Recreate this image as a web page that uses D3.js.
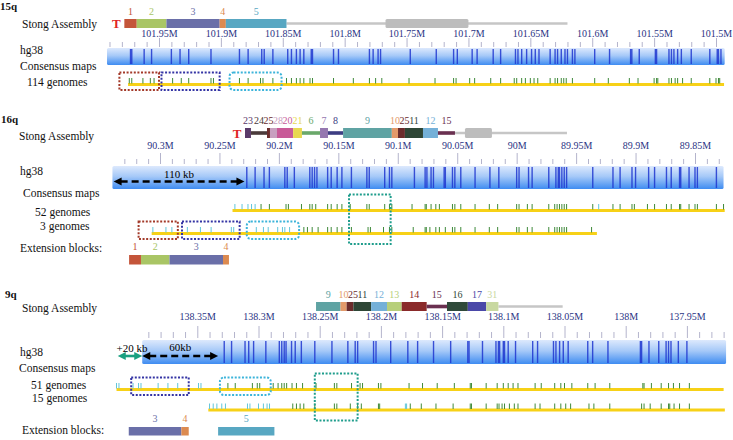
<!DOCTYPE html>
<html><head><meta charset="utf-8">
<script src="https://cdn.jsdelivr.net/npm/d3@7"></script>
<style>
body{margin:0;background:#fff}
svg text{font-family:"Liberation Serif","Times New Roman",serif}
</style></head><body>
<svg id="chart" width="733" height="440"></svg>
<script>
// ---------------- DATA (genomic positions in Mb) ----------------
const q15Ticks = [101.95,101.9,101.85,101.8,101.75,101.7,101.65,101.6,101.55,101.5];
const q15MinorRange = [101.99, 101.5];
const q15Hg38Extent = [101.992, 101.493];
const q15Hg38 = [101.973,101.972,101.962,101.956,101.940,101.933,101.926,101.908,101.885,101.878,101.867,101.865,101.858,101.846,101.843,101.839,101.836,101.833,101.827,101.826,101.809,101.805,101.780,101.777,101.773,101.771,101.747,101.726,101.712,101.709,101.697,101.693,101.680,101.674,101.662,101.660,101.657,101.653,101.649,101.646,101.643,101.634,101.630,101.628,101.625,101.622,101.620,101.616,101.614,101.598,101.586,101.569,101.568,101.562,101.549,101.548,101.538,101.536,101.534,101.531,101.528,101.520,101.505,101.499,101.498,101.496];
const q15Map114Extent = [101.975, 101.4935];
const q15Map114 = [101.974,101.972,101.963,101.957,101.954,101.939,101.932,101.926,101.908,101.906,101.885,101.878,101.868,101.866,101.858,101.847,101.843,101.839,101.836,101.833,101.828,101.826,101.809,101.793,101.780,101.775,101.770,101.748,101.727,101.712,101.710,101.699,101.695,101.682,101.674,101.663,101.661,101.657,101.654,101.650,101.647,101.644,101.634,101.630,101.628,101.625,101.623,101.621,101.616,101.598,101.587,101.570,101.563,101.550,101.548,101.547,101.538,101.536,101.533,101.531,101.527,101.520,101.505,101.500,101.498,101.497];
const q15Map114Extra = [];
const q15Assembly = [
  {id:"1", start:101.978, end:101.968},
  {id:"2", start:101.968, end:101.944},
  {id:"3", start:101.944, end:101.901},
  {id:"4", start:101.901, end:101.896},
  {id:"5", start:101.896, end:101.847}
];
const q15Tail = [101.847, 101.620];
const q15TailBlock = [101.767, 101.700];
const q15Boxes = [
  {type:"red",  start:101.982, end:101.950, rows:[0,0]},
  {type:"blue", start:101.948, end:101.901, rows:[0,0]},
  {type:"cyan", start:101.893, end:101.851, rows:[0,0]}
];

const q16Ticks = [90.3,90.25,90.2,90.15,90.1,90.05,90,89.95,89.9,89.85];
const q16MinorRange = [90.33, 89.83];
const q16Hg38Extent = [90.340, 89.826];
const q16Hg38 = [90.227,90.220,90.2125,90.208,90.195,90.193,90.187,90.174,90.172,90.170,90.168,90.159,90.156,90.151,90.147,90.139,90.126,90.124,90.111,90.107,90.105,90.086,90.077,90.0755,90.072,90.070,90.061,90.060,90.054,90.052,90.047,90.035,90.0225,90.015,90.000,89.998,89.990,89.987,89.973,89.967,89.965,89.964,89.962,89.960,89.958,89.936,89.919,89.913,89.903,89.900,89.889,89.884,89.874,89.870,89.863,89.862,89.855,89.850,89.848,89.832];
const q16Map52Extent = [90.239, 89.825];
const q16Map52 = [90.215,90.208,90.194,90.192,90.181,90.174,90.172,90.169,90.159,90.156,90.151,90.147,90.140,90.126,90.124,90.111,90.107,90.105,90.088,90.077,90.076,90.072,90.068,90.065,90.054,90.052,90.047,90.035,90.023,90.016,90.000,89.998,89.991,89.987,89.973,89.968,89.966,89.964,89.962,89.960,89.958,89.936,89.919,89.913,89.903,89.901,89.890,89.884,89.874,89.870,89.863,89.862,89.855,89.850,89.848,89.832,89.826];
const q16Map52Extra = [90.237,90.231,90.226,90.223,90.220,89.931];
const q16Map3Extent = [90.307, 89.9325];
const q16Map3 = [90.179,90.176,90.172,90.167,90.159,90.156,90.151,90.147,90.139,90.125,90.123,90.112,90.107,90.105,90.087,90.077,90.076,90.073,90.068,90.065,90.060,90.054,90.052,90.047,90.035,90.023,90.016,90.000,89.998,89.991,89.987,89.973,89.968,89.966,89.964,89.962,89.960,89.958,89.937];
const q16Map3Extra = [90.306,90.295,90.290,90.277,90.266,90.257,90.240,90.238,90.219,90.213,90.209,90.201,90.197,90.195,90.191];
const q16Assembly = [
  {id:"23", start:90.2285, end:90.2235},
  {id:"24", start:90.2235, end:90.2100},
  {id:"25", start:90.2100, end:90.2075},
  {id:"28", start:90.2075, end:90.2016},
  {id:"20", start:90.2016, end:90.1880},
  {id:"21", start:90.1880, end:90.1806},
  {id:"6",  start:90.1806, end:90.1654},
  {id:"7",  start:90.1654, end:90.1587},
  {id:"8",  start:90.1587, end:90.1460},
  {id:"9",  start:90.1460, end:90.1050},
  {id:"10", start:90.1050, end:90.0998},
  {id:"25", start:90.0998, end:90.0940},
  {id:"11", start:90.0940, end:90.0788},
  {id:"12", start:90.0788, end:90.0662},
  {id:"15", start:90.0662, end:90.0519}
];
const q16Tail = [90.0519, 89.9577];
const q16TailBlock = [90.0435, 90.0208];
const q16Boxes = [
  {type:"red",  start:90.318,  end:90.285, rows:[1,1]},
  {type:"blue", start:90.2815, end:90.233, rows:[1,1]},
  {type:"cyan", start:90.227,  end:90.183, rows:[1,1]},
  {type:"teal", start:90.141,  end:90.106, rows:[0,1]}
];
const q16Ext = [
  {id:"1", start:90.326, end:90.316},
  {id:"2", start:90.316, end:90.292},
  {id:"3", start:90.292, end:90.247},
  {id:"4", start:90.247, end:90.242}
];
const q16Gap = [90.339, 90.229];   // 110 kb

const q9Ticks = [138.35,138.3,138.25,138.2,138.15,138.1,138.05,138,137.95];
const q9MinorRange = [138.39, 137.92];
const q9Hg38Extent = [138.395, 137.918];
const q9Hg38 = [138.328,138.322,138.311,138.308,138.304,138.294,138.283,138.281,138.279,138.2775,138.273,138.270,138.265,138.254,138.240,138.227,138.221,138.219,138.206,138.204,138.192,138.178,138.170,138.157,138.143,138.129,138.128,138.117,138.106,138.104,138.103,138.100,138.099,138.096,138.090,138.076,138.072,138.059,138.057,138.054,138.051,138.047,138.031,138.027,138.0145,137.988,137.987,137.981,137.973,137.967,137.965,137.963,137.957,137.950];
const q9Map51Extent = [138.416, 137.920];
const q9Map51 = [138.325,138.319,138.305,138.301,138.299,138.288,138.284,138.281,138.279,138.277,138.2726,138.269,138.264,138.253,138.238,138.236,138.224,138.217,138.215,138.202,138.200,138.177,138.166,138.154,138.140,138.127,138.126,138.114,138.105,138.100,138.096,138.092,138.088,138.074,138.069,138.058,138.053,138.050,138.044,138.031,138.025,138.013,137.986,137.985,137.979,137.971,137.965,137.961,137.956,137.948];
const q9Map51Extra = [138.416,138.414,138.4025,138.398,138.396,138.382,138.374,138.366,138.349,138.347];
const q9Map15Extent = [138.341, 137.919];
const q9Map15 = [138.272,138.269,138.266,138.263,138.254,138.238,138.236,138.225,138.219,138.216,138.202,138.201,138.176,138.167,138.155,138.141,138.127,138.126,138.114,138.105,138.1035,138.101,138.099,138.095,138.091,138.088,138.074,138.070,138.058,138.053,138.049,138.045,138.030,138.026,138.013,137.987,137.985,137.980,137.971,137.965,137.964,137.9605,137.956,137.948];
const q9Map15Extra = [138.340,138.337,138.334,138.330,138.327,138.309,138.307,138.300,138.296,138.293,138.291,138.180,138.179];
const q9Assembly = [
  {id:"9",  start:138.253, end:138.233},
  {id:"10", start:138.233, end:138.228},
  {id:"25", start:138.228, end:138.2225},
  {id:"11", start:138.2225, end:138.208},
  {id:"12", start:138.208, end:138.195},
  {id:"13", start:138.195, end:138.183},
  {id:"14", start:138.183, end:138.1626},
  {id:"15", start:138.1626, end:138.146},
  {id:"16", start:138.146, end:138.129},
  {id:"17", start:138.129, end:138.114},
  {id:"31", start:138.114, end:138.104}
];
const q9Tail = [138.104, 138.0515];
const q9Boxes = [
  {type:"blue", start:138.404,  end:138.357, rows:[0,0]},
  {type:"cyan", start:138.3315, end:138.290, rows:[0,0]},
  {type:"teal", start:138.254,  end:138.219, rows:[0,1]}
];
const q9Ext = [
  {id:"3", start:138.406, end:138.363},
  {id:"4", start:138.363, end:138.357},
  {id:"5", start:138.333, end:138.287}
];
const q9Extra20 = [138.415, 138.395];  // +20 kb
const q9Gap = [138.395, 138.333];      // 60 kb

// ---------------- STYLES ----------------
const blockColor = {
  "1":"#c4553a","2":"#a9c565","3":"#6a6fa8","4":"#dc8a50","5":"#58a7c2",
  "6":"#6aa86a","7":"#9577b0","8":"#3d3d82","9":"#5fa3a3","10":"#e39a6a",
  "11":"#2e4636","12":"#74b0d8","13":"#b7cf7a","14":"#8a2a2a","15":"#6a3050",
  "16":"#2f4a3a","17":"#4a48a8","20":"#c85a98","21":"#e8d850","23":"#5a3a6a",
  "24":"#4a3a3a","25":"#6b2c2c","28":"#c8a0c0","31":"#c8d8a0"
};
const thinBlocks = new Set(["24","6","8","15"]);
const boxColor = {red:"#a33a2a", blue:"#3434a4", cyan:"#3cb4da", teal:"#1f9d8c"};

const svg = d3.select("#chart");
const defs = svg.append("defs");
const grad = defs.append("linearGradient").attr("id","hgGrad")
  .attr("x1",0).attr("y1",0).attr("x2",0).attr("y2",1);
grad.selectAll("stop").data([[0,"#dde9fd"],[0.45,"#a6c9f8"],[1,"#3f8cf1"]])
  .join("stop").attr("offset",d=>d[0]).attr("stop-color",d=>d[1]);

function sideLabels(g, items){
  g.selectAll(null).data(items).join("text")
    .attr("x",d=>d.x).attr("y",d=>d.y)
    .attr("font-size",d=>d.bold?11:11.5)
    .attr("font-weight",d=>d.bold?"bold":"normal")
    .attr("fill","#111").text(d=>d.t);
}

function blocks(g, x, data, yTop, h, labelY){
  g.selectAll(null).data(data).join("rect")
    .attr("x",d=>x(d.start)).attr("width",d=>x(d.end)-x(d.start))
    .attr("y",d=>thinBlocks.has(d.id)? yTop+h/2-1.8 : yTop)
    .attr("height",d=>thinBlocks.has(d.id)? 3.6 : h)
    .attr("fill",d=>blockColor[d.id]);
  const lab = g.selectAll(null).data(data).join("text")
    .attr("y",labelY).attr("font-size",10).attr("text-anchor","middle")
    .attr("fill",d=>blockColor[d.id]).text(d=>d.id);
  // relax overlapping labels
  let prevR = -Infinity;
  lab.each(function(d){
    const w = this.getComputedTextLength();
    let c = (x(d.start)+x(d.end))/2;
    if (c - w/2 < prevR - 0.5) c = prevR - 0.5 + w/2;
    d3.select(this).attr("x",c);
    prevR = c + w/2;
  });
}

function arrow(g, x1, x2, y, color, dashed){
  const hw = 7;
  g.append("line").attr("x1",x1+hw).attr("x2",x2-hw).attr("y1",y).attr("y2",y)
    .attr("stroke",color).attr("stroke-width",2.6)
    .attr("stroke-dasharray",dashed?"7,4":null);
  g.append("path").attr("d",`M${x1},${y}L${x1+hw+1},${y-4}L${x1+hw+1},${y+4}Z`).attr("fill",color);
  g.append("path").attr("d",`M${x2},${y}L${x2-hw-1},${y-4}L${x2-hw-1},${y+4}Z`).attr("fill",color);
}

function drawPanel(L){
  const x = d3.scaleLinear().domain(L.domain).range(L.range);
  const g = svg.append("g");
  sideLabels(g, L.labels);

  // assembly
  if (L.tail){
    g.append("line").attr("x1",x(L.tail[0])).attr("x2",x(L.tail[1]))
      .attr("y1",L.asmY+L.asmH/2).attr("y2",L.asmY+L.asmH/2)
      .attr("stroke","#c6c6c6").attr("stroke-width",2.6);
  }
  if (L.tailBlock){
    g.append("rect").attr("x",x(L.tailBlock[0])).attr("width",x(L.tailBlock[1])-x(L.tailBlock[0]))
      .attr("y",L.asmY).attr("height",L.asmH).attr("rx",1.5).attr("fill","#bdbdbd");
  }
  blocks(g, x, L.assembly, L.asmY, L.asmH, L.asmY-4);
  if (L.T){
    g.append("text").attr("x",x(L.assembly[0].start)-8).attr("y",L.asmY+L.asmH/2+4.5)
      .attr("text-anchor","middle").attr("font-size",13).attr("font-weight","bold")
      .attr("fill","#e02424").text("T");
  }

  // axis
  const minor = d3.range(0, Math.round((L.minorRange[0]-L.minorRange[1])*100)+1)
    .map(i => +(L.minorRange[0]-i*0.01).toFixed(2))
    .filter(v => !L.ticks.some(t => Math.abs(t-v)<1e-6));
  const axMinor = g.append("g").attr("transform",`translate(0,${L.axisY})`)
    .call(d3.axisTop(x).tickValues(minor).tickSize(L.minorLen).tickFormat(""));
  const axMajor = g.append("g").attr("transform",`translate(0,${L.axisY})`)
    .call(d3.axisTop(x).tickValues(L.ticks).tickSize(L.majorLen).tickPadding(L.pad)
      .tickFormat(d => String(d)+"M"));
  [axMinor, axMajor].forEach(a=>{
    a.select(".domain").remove();
    a.selectAll(".tick line").attr("stroke","#b4b4cc").attr("stroke-width",1);
    a.selectAll(".tick text").attr("fill","#2a3384").attr("font-size",10)
      .attr("font-family",'"Liberation Serif","Times New Roman",serif');
  });

  // hg38 bar
  g.append("rect").attr("x",x(L.hgExtent[0])).attr("width",x(L.hgExtent[1])-x(L.hgExtent[0]))
    .attr("y",L.hgY).attr("height",L.hgH).attr("rx",1.5).attr("fill","url(#hgGrad)");
  g.selectAll(null).data(L.hg38).join("line")
    .attr("x1",d=>x(d)).attr("x2",d=>x(d))
    .attr("y1",L.hgY+1).attr("y2",L.hgY+L.hgH-1)
    .attr("stroke","#1f36cf").attr("stroke-opacity",0.85).attr("stroke-width",1.4);

  // consensus maps
  L.maps.forEach(m=>{
    g.append("line").attr("x1",x(m.extent[0])).attr("x2",x(m.extent[1]))
      .attr("y1",m.y).attr("y2",m.y).attr("stroke","#f7d117").attr("stroke-width",3);
    g.selectAll(null).data(m.extra).join("line")
      .attr("x1",d=>x(d)).attr("x2",d=>x(d)).attr("y1",m.y-1).attr("y2",m.y-6.5)
      .attr("stroke","#62c6da").attr("stroke-width",1);
    g.selectAll(null).data(m.labels).join("line")
      .attr("x1",d=>x(d)).attr("x2",d=>x(d)).attr("y1",m.y-1).attr("y2",m.y-6.5)
      .attr("stroke","#3f8a3a").attr("stroke-width",1);
  });

  // dotted boxes
  g.selectAll(null).data(L.boxes).join("rect")
    .attr("x",d=>x(d.start)).attr("width",d=>x(d.end)-x(d.start))
    .attr("y",d=> d.rows[0]===d.rows[1] ? L.maps[d.rows[0]].y-12 : L.maps[d.rows[0]].y-16)
    .attr("height",d=> d.rows[0]===d.rows[1] ? 17.5 : (L.maps[d.rows[1]].y+10.5)-(L.maps[d.rows[0]].y-16))
    .attr("rx",d=>d.type==="cyan"?4:0)
    .attr("fill","none").attr("stroke",d=>boxColor[d.type]).attr("stroke-width",2)
    .attr("stroke-dasharray","2,1.6");

  // extension blocks
  if (L.ext) blocks(g, x, L.ext, L.extY, L.extH, L.extY-5);

  if (L.after) L.after(g, x);
}

drawPanel({
  domain:[101.95,101.5], range:[159,716], ticks:q15Ticks, minorRange:q15MinorRange,
  axisY:47, majorLen:9, minorLen:5, pad:1,
  labels:[{t:"15q",x:0,y:10,bold:true},{t:"Stong Assembly",x:22,y:28},{t:"hg38",x:20,y:54},
          {t:"Consensus maps",x:20,y:70},{t:"114 genomes",x:27,y:86}],
  assembly:q15Assembly, asmY:19, asmH:9, tail:q15Tail, tailBlock:q15TailBlock, T:true,
  hgExtent:q15Hg38Extent, hg38:q15Hg38, hgY:48, hgH:17,
  maps:[{extent:q15Map114Extent, labels:q15Map114, extra:q15Map114Extra, y:84.5}],
  boxes:q15Boxes
});

drawPanel({
  domain:[90.3,89.85], range:[160,695], ticks:q16Ticks, minorRange:q16MinorRange,
  axisY:164, majorLen:11, minorLen:5, pad:4.5,
  labels:[{t:"16q",x:1,y:123,bold:true},{t:"Stong Assembly",x:19,y:140},{t:"hg38",x:20,y:175},
          {t:"Consensus maps",x:23,y:197},{t:"52 genomes",x:35,y:216},{t:"3 genomes",x:40,y:230},
          {t:"Extension blocks:",x:20,y:252}],
  assembly:q16Assembly, asmY:128, asmH:10, tail:q16Tail, tailBlock:q16TailBlock, T:true,
  hgExtent:q16Hg38Extent, hg38:q16Hg38, hgY:166, hgH:23,
  maps:[{extent:q16Map52Extent, labels:q16Map52, extra:q16Map52Extra, y:210.5},
        {extent:q16Map3Extent, labels:q16Map3, extra:q16Map3Extra, y:233.5}],
  boxes:q16Boxes, ext:q16Ext, extY:255, extH:9.5,
  after:(g,x)=>{
    arrow(g, x(q16Gap[0]), x(q16Gap[1]), 181.5, "#000", true);
    g.append("text").attr("x",(x(q16Gap[0])+x(q16Gap[1]))/2).attr("y",177.5)
      .attr("text-anchor","middle").attr("font-size",11).text("110 kb");
  }
});

drawPanel({
  domain:[138.35,137.95], range:[197.3,686.9], ticks:q9Ticks, minorRange:q9MinorRange,
  axisY:338, majorLen:12, minorLen:6, pad:6,
  labels:[{t:"9q",x:5,y:298,bold:true},{t:"Stong Assembly",x:22,y:312},{t:"hg38",x:20,y:356},
          {t:"Consensus maps",x:19,y:372},{t:"51 genomes",x:31,y:389},{t:"15 genomes",x:32,y:402},
          {t:"Extension blocks:",x:22,y:434}],
  assembly:q9Assembly, asmY:302, asmH:9, tail:q9Tail, tailBlock:null, T:false,
  hgExtent:q9Hg38Extent, hg38:q9Hg38, hgY:340, hgH:24,
  maps:[{extent:q9Map51Extent, labels:q9Map51, extra:q9Map51Extra, y:389.5},
        {extent:q9Map15Extent, labels:q9Map15, extra:q9Map15Extra, y:410}],
  boxes:q9Boxes, ext:q9Ext, extY:427, extH:8.5,
  after:(g,x)=>{
    arrow(g, x(q9Extra20[0]), x(q9Extra20[1]), 356, "#1aa080", false);
    arrow(g, x(q9Gap[0]), x(q9Gap[1]), 356, "#000", true);
    g.append("text").attr("x",(x(q9Extra20[0])+x(q9Extra20[1]))/2+2).attr("y",351.5)
      .attr("text-anchor","middle").attr("font-size",11).text("+20 kb");
    g.append("text").attr("x",(x(q9Gap[0])+x(q9Gap[1]))/2).attr("y",351)
      .attr("text-anchor","middle").attr("font-size",11).text("60kb");
  }
});
</script>
</body></html>
